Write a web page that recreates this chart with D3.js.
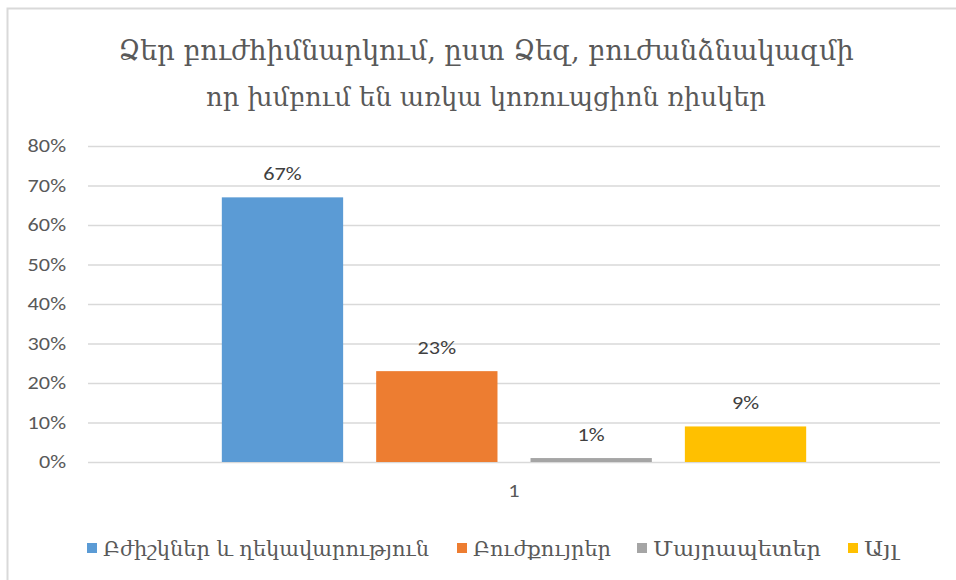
<!DOCTYPE html>
<html>
<head>
<meta charset="utf-8">
<script src="https://cdn.jsdelivr.net/npm/d3@7"></script>
<style>
  html, body { margin: 0; padding: 0; background: #fff; }
  svg { display: block; }
</style>
</head>
<body>
<svg id="chart" width="956" height="580"></svg>
<script>
// Survey answers: one category, four answer groups
const categories = ["1"];
const seriesNames = ["Բժիշկներ և ղեկավարություն", "Բուժքույրեր", "Մայրապետեր", "Այլ"];
const seriesValues = [0.67, 0.23, 0.01, 0.09];
const seriesColors = ["#5b9bd5", "#ed7d31", "#a5a5a5", "#ffc000"];
const tickValues = [0, 0.1, 0.2, 0.3, 0.4, 0.5, 0.6, 0.7, 0.8];
const titleLines = [
  "Ձեր բուժհիմնարկում, ըստ Ձեզ, բուժանձնակազմի",
  "որ խմբում են առկա կոռուպցիոն ռիսկեր"
];

const armFont = "'DejaVu Serif', serif";
const numFont = "'Carlito', 'Liberation Sans', Arial, sans-serif";

const svg = d3.select("#chart");
const W = 956, H = 580;
const plot = { left: 88, right: 940, top: 146, bottom: 462 };

// chart frame (left and top edges visible)
svg.append("rect")
  .attr("x", 7.5).attr("y", 8.5)
  .attr("width", W + 10).attr("height", H + 10)
  .attr("fill", "#fff").attr("stroke", "#d9d9d9").attr("stroke-width", 2);

// font size that makes a text node span the target width
function fittedSize(sel, target) {
  const fs = parseFloat(sel.attr("font-size"));
  const w = sel.node().getComputedTextLength();
  return w > 0 ? fs * target / w : fs;
}
// widen the number glyphs horizontally
function stretch(selection, factor) {
  selection.each(function () {
    const w = this.getComputedTextLength();
    d3.select(this).attr("textLength", (w * factor).toFixed(1))
      .attr("lengthAdjust", "spacingAndGlyphs");
  });
}

// title, two centred lines
const titleWidths = [736, 560];
svg.append("g").selectAll("text").data(titleLines).join("text")
  .attr("x", 486).attr("y", (d, i) => 60 + i * 46)
  .attr("text-anchor", "middle")
  .attr("font-family", armFont)
  .attr("font-size", 24)
  .attr("fill", "#595959")
  .text(d => d)
  .each(function (d, i) {
    const s = d3.select(this);
    s.attr("font-size", fittedSize(s, titleWidths[i]).toFixed(2));
  });

const y = d3.scaleLinear().domain([0, 0.8]).range([plot.bottom, plot.top]);
const x0 = d3.scaleBand().domain(categories).range([plot.left, plot.right])
  .paddingInner(0).paddingOuter(0.229);
const x1 = d3.scaleBand().domain(seriesNames).range([0, x0.bandwidth()])
  .paddingInner(0.214).paddingOuter(0);

// gridlines and value axis
const yAxis = d3.axisLeft(y).tickValues(tickValues)
  .tickFormat(d3.format(".0%"))
  .tickSize(-(plot.right - plot.left)).tickPadding(22);
const yg = svg.append("g").attr("transform", `translate(${plot.left},0)`).call(yAxis);
yg.select(".domain").remove();
yg.selectAll(".tick line").attr("stroke", "#d9d9d9").attr("stroke-width", 1.3);
yg.selectAll(".tick text")
  .attr("font-family", numFont).attr("font-size", 18.5)
  .attr("fill", "#595959")
  .call(stretch, 1.2);

// bars
const group = svg.append("g").selectAll("g")
  .data(categories).join("g")
  .attr("transform", d => `translate(${x0(d)},0)`);

const barData = seriesNames.map((n, i) => ({ name: n, value: seriesValues[i], color: seriesColors[i] }));

group.selectAll("rect")
  .data(barData).join("rect")
  .attr("x", d => x1(d.name))
  .attr("y", d => y(d.value))
  .attr("width", x1.bandwidth())
  .attr("height", d => y(0) - y(d.value))
  .attr("fill", d => d.color);

group.selectAll("text.val")
  .data(barData).join("text")
  .attr("class", "val")
  .attr("x", d => x1(d.name) + x1.bandwidth() / 2)
  .attr("y", d => y(d.value) - 17)
  .attr("text-anchor", "middle")
  .attr("font-family", numFont).attr("font-size", 18.5)
  .attr("fill", "#404040")
  .text(d => d3.format(".0%")(d.value))
  .call(stretch, 1.2);

// category axis label
svg.append("g").attr("transform", `translate(0,${plot.bottom})`)
  .call(d3.axisBottom(x0).tickSize(0).tickPadding(22))
  .call(g => g.select(".domain").remove())
  .selectAll("text")
  .attr("font-family", numFont).attr("font-size", 18.5)
  .attr("fill", "#595959")
  .call(stretch, 1.2);

// legend: swatch + label per series
const legendX = [87, 457, 637, 848];
const legendW = [326, 138, 168, 34];
const legend = svg.append("g");
const legendText = legend.selectAll("text").data(barData).join("text")
  .attr("x", (d, i) => legendX[i] + 16).attr("y", 556)
  .attr("font-family", armFont).attr("font-size", 19)
  .attr("fill", "#595959")
  .text(d => d.name);
const legendSize = fittedSize(d3.select(legendText.nodes()[0]), legendW[0]);
legendText.attr("font-size", legendSize.toFixed(2))
  .attr("textLength", (d, i) => legendW[i])
  .attr("lengthAdjust", "spacingAndGlyphs");
legend.selectAll("rect").data(barData).join("rect")
  .attr("x", (d, i) => legendX[i]).attr("y", 543)
  .attr("width", 10).attr("height", 10)
  .attr("fill", d => d.color);
</script>
</body>
</html>
